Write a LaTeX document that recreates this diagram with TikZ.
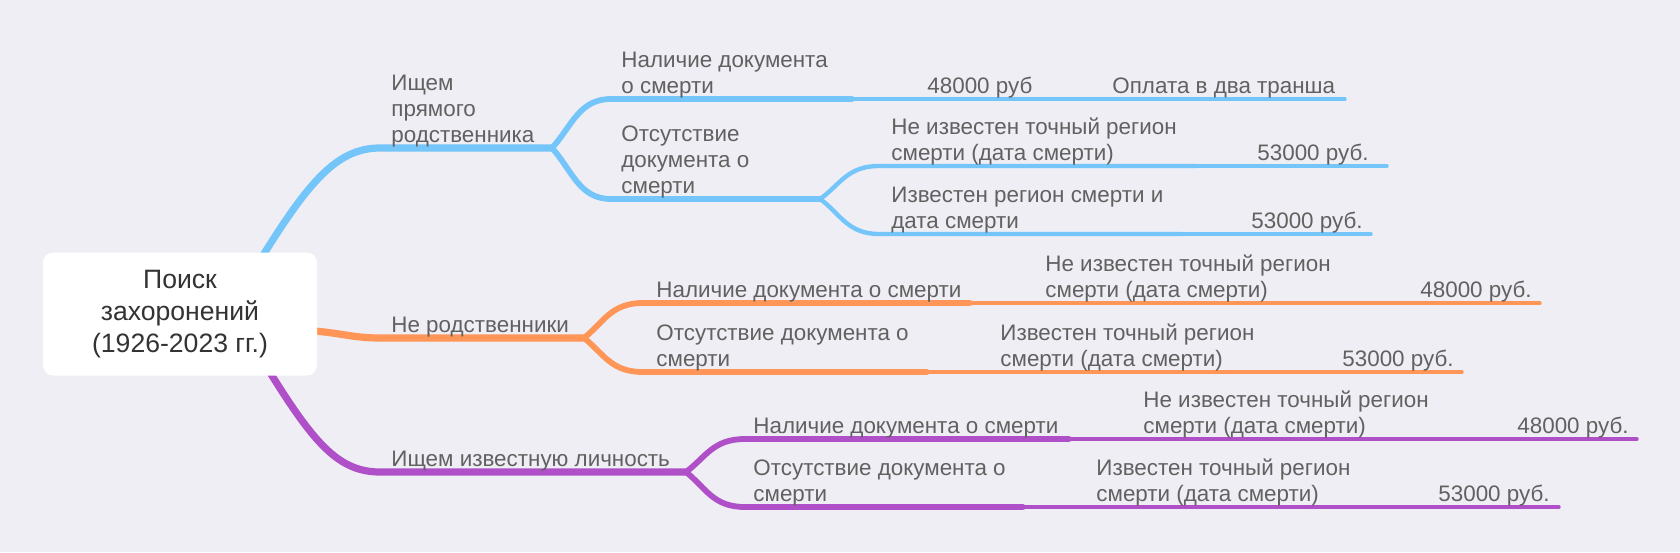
\documentclass[tikz,border=0pt]{standalone}
\usepackage{fontspec}
\setmainfont{Liberation Sans}
\definecolor{bgcol}{HTML}{EFEEF4}
\definecolor{txtcol}{HTML}{616161}
\definecolor{roottxt}{HTML}{333333}
\definecolor{relblue}{HTML}{74C5FA}
\definecolor{notorange}{HTML}{FF9658}
\definecolor{famouspurple}{HTML}{B050C8}
\begin{document}
\begin{tikzpicture}[
	x=0.5pt, y=-0.5pt,
	every node/.style={font=\fontsize{11.2}{12.9}\selectfont, text=txtcol, align=left, inner sep=0pt},
	topic/.style={anchor=base west},
	price/.style={anchor=base east},
	rootbox/.style={fill=white, rounded corners=5pt, minimum width=137pt, minimum height=61.5pt,
		font=\fontsize{13.3}{16}\selectfont, text=roottxt, align=center},
	w1/.style={line width=3.6pt, line cap=round},
	w2/.style={line width=2.9pt, line cap=round},
	w3/.style={line width=2.2pt, line cap=round},
	w4/.style={line width=1.7pt, line cap=round}
	]
	\fill[bgcol] (0,0) rectangle (1680,552);
	\useasboundingbox (0,0) rectangle (1680,552);

	% branch points (the first ones hide under the root box)
	\coordinate (b0) at (254,270);   \coordinate (bS) at (380,148);   \coordinate (bF) at (552,148);
	\coordinate (o0) at (300,330);   \coordinate (oS) at (380,338);   \coordinate (oF) at (584,338);
	\coordinate (p0) at (258,353);   \coordinate (pS) at (380,472);   \coordinate (pF) at (686,472);

	% ---- blue: relatives
	\draw[relblue, w1] (b0) .. controls +(52,-85) and +(-45,0) .. (bS) -- (bF);
	\node[topic] (rel) at (391,142) {Ищем\\прямого\\родственника};

	\coordinate (bd1) at (611,99);  \coordinate (bd2) at (852,99);
	\coordinate (bd3) at (1114,99); \coordinate (bd4) at (1345,99);
	\draw[relblue, w2] (bF) .. controls +(20,-22) and +(-32,0) .. (bd1) -- (bd2);
	\draw[relblue, w3] (bd2) -- (bd3);
	\draw[relblue, w4] (bd3) -- (bd4);
	\node[topic] (rel-doc) at (621,93) {Наличие документа\\о смерти};
	\node[topic] (rel-doc-price) at (927,93) {48000 руб};
	\node[topic] (rel-doc-pay) at (1112,93) {Оплата в два транша};

	\coordinate (bn1) at (611,199); \coordinate (bnF) at (820,199);
	\draw[relblue, w2] (bF) .. controls +(20,22) and +(-32,0) .. (bn1) -- (bnF);
	\node[topic] (rel-nodoc) at (621,193) {Отсутствие\\документа о\\смерти};

	\coordinate (bu1) at (879,166); \coordinate (bu2) at (1197,166); \coordinate (bu3) at (1387,166);
	\draw[relblue, w3] (bnF) .. controls +(20,-14) and +(-32,0) .. (bu1) -- (bu2);
	\draw[relblue, w4] (bu2) -- (bu3);
	\node[topic] (rel-unknown) at (891,160) {Не известен точный регион\\смерти (дата смерти)};
	\node[price] (rel-unknown-price) at (1369,160) {53000 руб.};

	\coordinate (bk1) at (879,234); \coordinate (bk2) at (1182,234); \coordinate (bk3) at (1371,234);
	\draw[relblue, w3] (bnF) .. controls +(20,14) and +(-32,0) .. (bk1) -- (bk2);
	\draw[relblue, w4] (bk2) -- (bk3);
	\node[topic] (rel-known) at (891,228) {Известен регион смерти и\\дата смерти};
	\node[price] (rel-known-price) at (1363,228) {53000 руб.};

	% ---- orange: not relatives
	\draw[notorange, w1] (o0) .. controls +(40,2) and +(-30,0) .. (oS) -- (oF);
	\node[topic] (notrel) at (391,332) {Не родственники};

	\coordinate (od1) at (643,303); \coordinate (od2) at (970,303);
	\coordinate (od3) at (1352,303); \coordinate (od4) at (1540,303);
	\draw[notorange, w2] (oF) .. controls +(20,-16) and +(-32,0) .. (od1) -- (od2);
	\draw[notorange, w3] (od2) -- (od3);
	\draw[notorange, w4] (od3) -- (od4);
	\node[topic] (notrel-doc) at (656,297) {Наличие документа о смерти};
	\node[topic] (notrel-doc-region) at (1045,297) {Не известен точный регион\\смерти (дата смерти)};
	\node[price] (notrel-doc-price) at (1532,297) {48000 руб.};

	\coordinate (on1) at (643,372); \coordinate (on2) at (927,372);
	\coordinate (on3) at (1275,372); \coordinate (on4) at (1462,372);
	\draw[notorange, w2] (oF) .. controls +(20,16) and +(-32,0) .. (on1) -- (on2);
	\draw[notorange, w3] (on2) -- (on3);
	\draw[notorange, w4] (on3) -- (on4);
	\node[topic] (notrel-nodoc) at (656,366) {Отсутствие документа о\\смерти};
	\node[topic] (notrel-nodoc-region) at (1000,366) {Известен точный регион\\смерти (дата смерти)};
	\node[price] (notrel-nodoc-price) at (1454,366) {53000 руб.};

	% ---- purple: famous person
	\draw[famouspurple, w1] (p0) .. controls +(52,85) and +(-45,0) .. (pS) -- (pF);
	\node[topic] (famous) at (391,466) {Ищем известную личность};

	\coordinate (pd1) at (745,439); \coordinate (pd2) at (1069,439);
	\coordinate (pd3) at (1446,439); \coordinate (pd4) at (1637,439);
	\draw[famouspurple, w2] (pF) .. controls +(20,-15) and +(-32,0) .. (pd1) -- (pd2);
	\draw[famouspurple, w3] (pd2) -- (pd3);
	\draw[famouspurple, w4] (pd3) -- (pd4);
	\node[topic] (famous-doc) at (753,433) {Наличие документа о смерти};
	\node[topic] (famous-doc-region) at (1143,433) {Не известен точный регион\\смерти (дата смерти)};
	\node[price] (famous-doc-price) at (1629,433) {48000 руб.};

	\coordinate (pn1) at (745,507); \coordinate (pn2) at (1023,507);
	\coordinate (pn3) at (1368,507); \coordinate (pn4) at (1559,507);
	\draw[famouspurple, w2] (pF) .. controls +(20,16) and +(-32,0) .. (pn1) -- (pn2);
	\draw[famouspurple, w3] (pn2) -- (pn3);
	\draw[famouspurple, w4] (pn3) -- (pn4);
	\node[topic] (famous-nodoc) at (753,501) {Отсутствие документа о\\смерти};
	\node[topic] (famous-nodoc-region) at (1096,501) {Известен точный регион\\смерти (дата смерти)};
	\node[price] (famous-nodoc-price) at (1550,501) {53000 руб.};

	% root, on top of the branch starts
	\node[rootbox] (root) at (180,314) {Поиск\\захоронений\\(1926-2023 гг.)};
\end{tikzpicture}
\end{document}
